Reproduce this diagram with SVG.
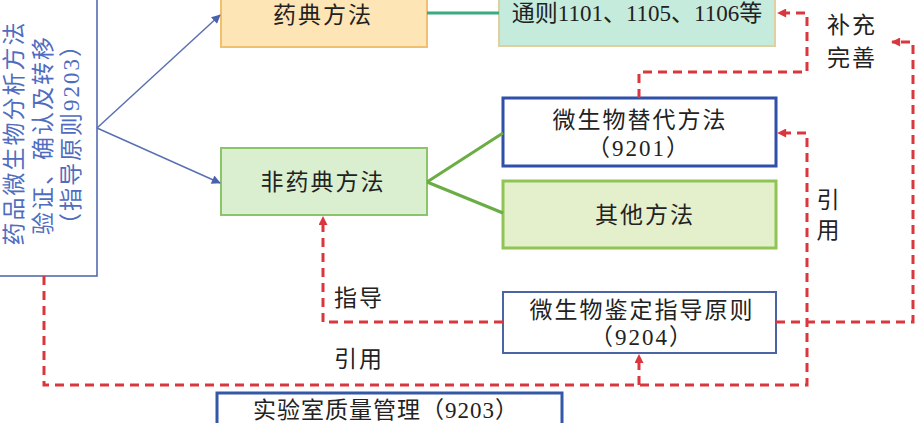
<svg xmlns="http://www.w3.org/2000/svg" width="915" height="423" viewBox="0 0 915 423">
<defs>
<marker id="ar" viewBox="0 0 10 10" refX="9" refY="5" markerWidth="10" markerHeight="9" markerUnits="userSpaceOnUse" orient="auto"><path d="M0,0 L10,5 L0,10 z" fill="#d9363e"/></marker>
<marker id="ab" viewBox="0 0 10 10" refX="9" refY="5" markerWidth="10" markerHeight="9" markerUnits="userSpaceOnUse" orient="auto"><path d="M0,0 L10,5 L0,10 z" fill="#4a62ae"/></marker>
<style>
text{font-family:"Liberation Serif","Noto Sans CJK SC",serif;font-size:23px;fill:#222;}
.c{text-anchor:middle;dominant-baseline:central;}
.ls{letter-spacing:2px;}
.ls1{letter-spacing:1px;}
.red{fill:none;stroke:#d9363e;stroke-width:3;stroke-dasharray:9 6;}
.blue{fill:none;stroke:#5a70b4;stroke-width:1.5;}
.grn{fill:none;stroke:#6aad45;stroke-width:3;}
.lt{fill:#4f6cc0;font-size:23px;letter-spacing:2px;}
</style>
</defs>
<rect width="915" height="423" fill="#ffffff"/>

<g id="n-root">
<rect x="-5" y="-5" width="102" height="281" fill="#ffffff" stroke="#4a60a8" stroke-width="1.5"/>
<text class="c lt" transform="translate(14,133) rotate(-90)">药品微生物分析方法</text>
<text class="c lt" transform="translate(43,135) rotate(-90)">验证、确认及转移</text>
<text class="c lt" transform="translate(71,134) rotate(-90)">（指导原则9203）</text>
</g>

<g id="n-pharm">
<rect x="221" y="-5" width="206" height="52" fill="#fde5b5" stroke="#f0c070" stroke-width="2"/>
<text class="c ls" x="323" y="15">药典方法</text>
</g>

<g id="n-general">
<rect x="499" y="-5" width="276" height="51" fill="#c5ebdd" stroke="#e0d0a0" stroke-width="2"/>
<text class="c" x="637" y="13">通则1101、1105、1106等</text>
</g>

<g id="n-nonpharm">
<rect x="221" y="148" width="206" height="67" fill="#d9efcf" stroke="#8cc46c" stroke-width="2"/>
<text class="c ls" x="323" y="182">非药典方法</text>
</g>

<g id="n-alt">
<rect x="503" y="98" width="273" height="68" fill="#ffffff" stroke="#2f4fa8" stroke-width="3"/>
<text class="c ls" x="640" y="120">微生物替代方法</text>
<text class="c ls" x="639" y="148">（9201）</text>
</g>

<g id="n-other">
<rect x="503" y="181" width="273" height="67" fill="#e4efcc" stroke="#90c455" stroke-width="3"/>
<text class="c ls" x="645" y="215">其他方法</text>
</g>

<g id="n-ident">
<rect x="503" y="292" width="273" height="61" fill="#ffffff" stroke="#4a64a4" stroke-width="2"/>
<text class="c ls" x="642" y="310">微生物鉴定指导原则</text>
<text class="c ls" x="642" y="337">（9204）</text>
</g>

<g id="n-lab">
<rect x="217" y="393" width="345" height="40" fill="#ffffff" stroke="#3458a8" stroke-width="3"/>
<text class="c ls1" x="386" y="410">实验室质量管理（9203）</text>
</g>

<g id="connectors">
<path class="blue" d="M97,128 L220,15" marker-end="url(#ab)"/>
<path class="blue" d="M97,128 L220,183" marker-end="url(#ab)"/>
<path d="M427,13 H499" fill="none" stroke="#3aaa80" stroke-width="3"/>
<path class="grn" d="M427,182 L503,133"/>
<path class="grn" d="M427,182 L503,213"/>
<path class="red" d="M639,98 V72 H807 V13 H778" marker-end="url(#ar)"/>
<path class="red" d="M776,322 H913 V42 H892" marker-end="url(#ar)"/>
<path class="red" d="M44,276 V385 H807 V133 H778" marker-end="url(#ar)"/>
<path class="red" d="M639,385 V355" marker-end="url(#ar)"/>
<path class="red" d="M503,322 H323 V217" marker-end="url(#ar)"/>
</g>

<g id="labels">
<text class="c ls" x="852" y="25">补充</text>
<text class="c ls" x="852" y="58">完善</text>
<text class="c" x="828" y="200">引</text>
<text class="c" x="828" y="230">用</text>
<text class="c ls" x="359" y="298">指导</text>
<text class="c ls" x="359" y="359">引用</text>
</g>
</svg>
